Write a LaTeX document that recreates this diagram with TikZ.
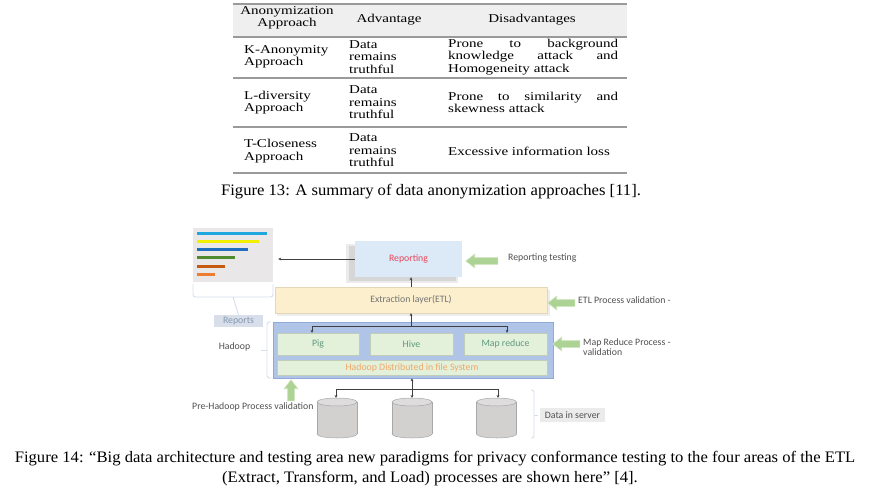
\documentclass[tikz,border=0pt]{standalone}
\usepackage{fontspec}
\setmainfont{Liberation Serif}
\newfontfamily\tabfont[FakeStretch=1.25]{Liberation Serif}
\newfontfamily\capbfont[FakeStretch=1.04]{Liberation Serif}
\newfontfamily\diafont{Carlito}
\usetikzlibrary{shapes.arrows,arrows.meta}
\definecolor{rulegray}{HTML}{9A9A9A}
\definecolor{headfill}{HTML}{EFEFEF}
\definecolor{repfill}{HTML}{DCE9F6}
\definecolor{repred}{HTML}{E8475A}
\definecolor{etlfill}{HTML}{FCEFCD}
\definecolor{hadfill}{HTML}{AFC4E6}
\definecolor{haddraw}{HTML}{90AAD6}
\definecolor{grnfill}{HTML}{E3F0DA}
\definecolor{grntext}{HTML}{5F9A7E}
\definecolor{hdfstext}{HTML}{F0A868}
\definecolor{arrfill}{HTML}{ADD394}
\definecolor{arrdraw}{HTML}{C9E2B8}
\definecolor{labgray}{HTML}{505050}
\definecolor{cylfill}{HTML}{D3D0D0}
\definecolor{cyltop}{HTML}{DEDCDC}
\definecolor{cyldraw}{HTML}{A8A8A8}
\definecolor{bracecol}{HTML}{D6DEEA}
\definecolor{repslab}{HTML}{D8DFEA}
\definecolor{repstext}{HTML}{8497B0}
\definecolor{chartfill}{HTML}{E9E7E7}
\definecolor{bar1}{HTML}{1FA8E0}
\definecolor{bar2}{HTML}{F0F000}
\definecolor{bar3}{HTML}{1F6FC0}
\definecolor{bar4}{HTML}{4E8A2E}
\definecolor{bar5}{HTML}{C55A11}
\definecolor{bar6}{HTML}{ED7D31}
\tikzset{
  rulel/.style={draw=rulegray, line width=1.3pt},
  cell/.style={font=\tabfont\fontsize{12}{12.5}\selectfont, inner sep=0pt, align=left, anchor=west, text=black},
  capt/.style={inner sep=0pt, text=black, font=\capbfont\fontsize{16}{20}\selectfont},
  dfont/.style={font=\diafont\fontsize{9.8}{10.5}\selectfont},
  dlab/.style={dfont, inner sep=0pt, text=labgray, align=left},
  inbox/.style={fill=grnfill, draw=grnfill!85!black, line width=0.3pt, inner sep=0pt, dfont, text=grntext},
  garrow/.style={single arrow, fill=arrfill, draw=arrdraw, line width=0.6pt, inner sep=3pt, single arrow head extend=3.5pt, single arrow tip angle=75, anchor=center},
  conn/.style={draw=black!75, line width=0.6pt, -{Stealth[length=3pt,width=2.8pt]}},
  brace/.style={draw=bracecol, line width=0.9pt, rounded corners=2.5pt},
}
\newcommand{\mycyl}[2]{%
  \fill[cylfill] (#1,434) ellipse[x radius=20, y radius=4];
  \draw[cyldraw, line width=0.5pt] (#1,434) ellipse[x radius=20, y radius=4];
  \fill[cylfill] (#1-20,402) rectangle (#1+20,434);
  \draw[cyldraw, line width=0.5pt] (#1-20,402) -- (#1-20,434) (#1+20,402) -- (#1+20,434);
  \fill[cyltop] (#1,402) ellipse[x radius=20, y radius=4];
  \draw[cyldraw, line width=0.5pt] (#1,402) ellipse[x radius=20, y radius=4];
  \coordinate (#2) at (#1,398);
}
\begin{document}
\begin{tikzpicture}[x=1pt,y=-1pt]
\useasboundingbox (0,0) rectangle (869,501);
\fill[white] (0,0) rectangle (869,501);
% ---------- table ----------
\fill[headfill] (233,4) rectangle (627,37);
\draw[rulel] (233,4) -- (627,4);
\draw[rulel] (233,37) -- (627,37);
\draw[rulel] (233,78) -- (627,78);
\draw[rulel] (233,127) -- (627,127);
\draw[rulel] (233,173) -- (627,173);
\node[cell, align=center, anchor=center] (h1) at (287,18) {Anonymization\\Approach};
\node[cell, anchor=center] (h2) at (389,20) {Advantage};
\node[cell, anchor=center] (h3) at (532,20) {Disadvantages};
\node[cell] (r1a) at (244,57) {K-Anonymity\\Approach};
\node[cell] (r1b) at (349,57) {Data\\remains\\truthful};
\node[cell, text width=170pt] (r1c) at (448,57) {Prone\hfill to\hfill background\\knowledge\hfill attack\hfill and\\Homogeneity attack};
\node[cell] (r2a) at (244,102.5) {L-diversity\\Approach};
\node[cell] (r2b) at (349,102.5) {Data\\remains\\truthful};
\node[cell, text width=170pt] (r2c) at (448,102.5) {Prone\hfill to\hfill similarity\hfill and\\skewness attack};
\node[cell] (r3a) at (244,151) {T-Closeness\\Approach};
\node[cell] (r3b) at (349,150.5) {Data\\remains\\truthful};
\node[cell] (r3c) at (448,151) {Excessive information loss};
\node[capt] (cap13) at (431,192) {Figure 13: A summary of data anonymization approaches [11].};
% ---------- diagram ----------
\node[fill=chartfill, minimum width=80pt, minimum height=54pt, inner sep=0pt] (chart) at (233,255) {};
\draw[bar1, line width=3pt] (197,233) -- (267,233);
\draw[bar2, line width=3pt] (197,241) -- (259,241);
\draw[bar3, line width=3pt] (197,249) -- (248,249);
\draw[bar4, line width=3pt] (197,257.5) -- (235,257.5);
\draw[bar5, line width=3pt] (197,266) -- (225,266);
\draw[bar6, line width=3pt] (197,274) -- (215,274);
\node[fill=repslab, minimum width=49pt, minimum height=12pt, inner sep=0pt, dfont, text=repstext] (reps) at (238.5,321) {Reports};
\draw[brace] (193,284) |- (233,297) -| (273,284);
\draw[brace] (233,297) -- (reps.north);
% reporting
\fill[black!8] (346,244) rectangle (458,283);
\fill[black!16] (349,246) rectangle (456,281);
\node[fill=repfill, minimum width=107pt, minimum height=36pt, inner sep=0pt, dfont, text=repred] (rep) at (408.5,259) {Reporting};
\draw[conn] (rep.west) -- ([xshift=5pt]chart.east |- rep.west);
% extraction
\fill[black!7] (277,290) rectangle (550,316);
\node[fill=etlfill, draw=etlfill!90!black, line width=0.3pt, minimum width=272pt, minimum height=26pt, inner sep=0pt, dfont, text=black!55] (etl) at (411,300) {Extraction layer(ETL)};
\draw[conn] (etl.north) -- (etl.north |- rep.south);
% hadoop
\node[fill=hadfill, draw=haddraw, line width=0.6pt, minimum width=280pt, minimum height=56pt, inner sep=0pt] (had) at (413,350) {};
\node[inbox, minimum width=82pt, minimum height=22pt] (pig) at (318,344) {Pig};
\node[inbox, minimum width=83pt, minimum height=22pt] (hive) at (411.5,344) {Hive};
\node[inbox, minimum width=83pt, minimum height=22pt] (mapr) at (505.5,344) {Map reduce};
\node[inbox, minimum width=270pt, minimum height=15pt, text=hdfstext] (hdfs) at (412,367.5) {Hadoop Distributed in file System};
\coordinate (j1) at (411,326);
\draw[conn] (j1) -- (etl.south);
\draw[conn] (j1) -| ([xshift=-6pt]pig.north);
\draw[conn] (j1) -| ([xshift=1.5pt]mapr.north);
% hadoop bracket
\draw[brace] (271,322) -| (267,378) -- (271,378);
\draw[brace] (267,350) -- (261,350);
\node[dlab] (hadlab) at (234.5,347) {Hadoop};
% cylinders
\mycyl{337}{c1}
\mycyl{412}{c2}
\mycyl{496.5}{c3}
\coordinate (j2) at (412,389);
\draw[conn] (j2) -- (had.south -| j2);
\draw[conn] (j2) -| ([xshift=-1pt]c1);
\draw[conn] (j2) -- (c2);
\draw[conn] (j2) -| ([xshift=1.5pt]c3);
% data in server
\draw[brace] (531,390) -| (534,438) -- (531,438);
\draw[brace] (534,415) -- (538,415);
\node[fill=black!8, minimum width=65pt, minimum height=14pt, inner sep=0pt, dfont, text=labgray] (dis) at (572.5,415) {Data in server};
% green arrows and labels
\node[garrow, minimum height=32pt, shape border rotate=180] (ga1) at (484,261) {};
\node[dlab, anchor=west] (l1) at (508,258) {Reporting testing};
\node[garrow, minimum height=27pt, shape border rotate=180] (ga2) at (563.5,303) {};
\node[dlab, anchor=west] (l2) at (578,300) {ETL Process validation -};
\node[garrow, minimum height=27pt, shape border rotate=180] (ga3) at (568.5,344) {};
\node[dlab, anchor=west] (l3) at (583,347) {Map Reduce Process -\\validation};
\node[garrow, minimum height=21pt, shape border rotate=90] (ga4) at (291,392.5) {};
\node[dlab, anchor=west] (l4) at (192,407) {Pre-Hadoop Process validation};
% caption
\node[capt] (cap14a) at (435,459) {Figure 14: “Big data architecture and testing area new paradigms for privacy conformance testing to the four areas of the ETL};
\node[capt] (cap14b) at (430,479) {(Extract, Transform, and Load) processes are shown here” [4].};
\end{tikzpicture}
\end{document}
